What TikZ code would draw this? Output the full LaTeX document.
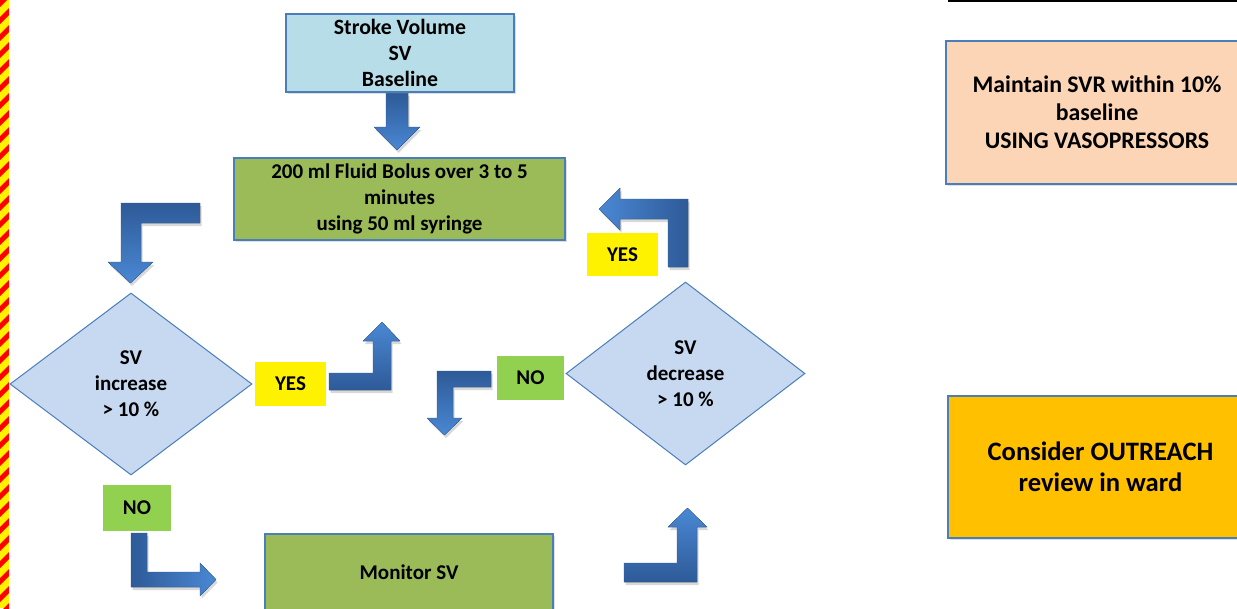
\documentclass[tikz,border=0pt]{standalone}
\usepackage{fontspec}
\setmainfont{Carlito}
\usepackage{xcolor}
\usepackage{tikz}
\usetikzlibrary{shapes.geometric, shadows}
\definecolor{svblue}{HTML}{B7DEE8}
\definecolor{boxedge}{HTML}{4A7EBB}
\definecolor{bolusgreen}{HTML}{9BBB59}
\definecolor{decisionblue}{HTML}{C6D9F1}
\definecolor{nogreen}{HTML}{92D050}
\definecolor{peach}{HTML}{FBD5B5}
\definecolor{amber}{HTML}{FFC000}
\definecolor{arrowdark}{HTML}{2E5A98}
\definecolor{arrowlight}{HTML}{4A88D4}

\tikzset{
  boxtext/.style={font=\bfseries\fontsize{21}{26}\selectfont, align=center},
  stepbox/.style={boxtext, draw=boxedge, line width=1.5pt, inner sep=0pt,
    drop shadow={shadow xshift=1.5pt, shadow yshift=-2pt, opacity=0.25}},
  decision/.style={boxtext, diamond, draw=boxedge, line width=1pt,
    fill=decisionblue, inner sep=0pt, aspect=1.33},
  answer/.style={boxtext, inner sep=0pt, minimum height=44pt},
  blockarrow/.style={draw=arrowdark, line width=0.3pt,
    drop shadow={shadow xshift=1.5pt, shadow yshift=-3pt, opacity=0.3}},
}

\begin{document}
\begin{tikzpicture}[x=1pt, y=-1pt]
  \clip (0,0) rectangle (1237,608);
  \fill[white] (0,0) rectangle (1237,608);

  % hazard stripe on the left edge
  \begin{scope}
    \clip (0,0) rectangle (9,608);
    \fill[yellow] (0,0) rectangle (9,608);
    \foreach \y in {-17,0,...,625}
      \fill[red] (0,\y) -- (9,\y-9) -- (9,\y-2) -- (0,\y+7) -- cycle;
  \end{scope}

  \draw[line width=2.5pt] (948,1) -- (1237,1);

  % block arrows
  \filldraw[blockarrow, top color=arrowdark, bottom color=arrowlight]
    (386,93) -- (408,93) -- (408,127) -- (420,127) -- (397,150)
    -- (374,127) -- (386,127) -- cycle;
  \filldraw[blockarrow, top color=arrowdark, bottom color=arrowlight]
    (200,203) -- (200,223) -- (141,223) -- (141,262) -- (153,262)
    -- (130.5,283) -- (108,262) -- (121,262) -- (121,203) -- cycle;
  \filldraw[blockarrow, top color=arrowlight, bottom color=arrowdark]
    (329,373) -- (373,373) -- (373,341) -- (363,341) -- (382,322)
    -- (400,341) -- (391,341) -- (391,390) -- (329,390) -- cycle;
  \filldraw[blockarrow, top color=arrowdark, bottom color=arrowlight]
    (491,371) -- (491,387) -- (453,387) -- (453,418) -- (462,418)
    -- (444.5,435) -- (427,418) -- (437,418) -- (437,371) -- cycle;
  \filldraw[blockarrow, left color=arrowlight, right color=arrowdark]
    (688,267) -- (668,267) -- (668,219) -- (620,219) -- (620,230)
    -- (599,209) -- (620,188) -- (620,199) -- (688,199) -- cycle;
  \filldraw[blockarrow, left color=arrowdark, right color=arrowlight]
    (131,533) -- (147,533) -- (147,572) -- (200,572) -- (200,563)
    -- (216,579.5) -- (200,596) -- (200,587) -- (131,587) -- cycle;
  \filldraw[blockarrow, top color=arrowlight, bottom color=arrowdark]
    (624,563) -- (677,563) -- (677,527) -- (668,527) -- (687.5,508)
    -- (707,527) -- (697,527) -- (697,582) -- (624,582) -- cycle;

  % boxes
  \node[stepbox, fill=svblue, minimum width=228pt, minimum height=78pt,
        font=\bfseries\fontsize{21.8}{26}\selectfont]
    (sv) at (400,53) {Stroke Volume\\SV\\Baseline};
  \node[stepbox, fill=bolusgreen, minimum width=331pt, minimum height=82pt]
    (bolus) at (399.5,199) {200 ml Fluid Bolus over 3 to 5\\minutes\\using 50 ml syringe};
  \node[stepbox, fill=bolusgreen, minimum width=288pt, minimum height=76pt]
    (monitor) at (409,572) {Monitor SV};

  % decisions
  \node[decision, minimum width=242pt, minimum height=182pt]
    (incr) at (131,384) {SV\\increase\\> 10 \%};
  \node[decision, minimum width=239pt, minimum height=183pt]
    (decr) at (685.5,373.5) {SV\\decrease\\> 10 \%};

  % answers
  \node[answer, fill=yellow, minimum width=71pt] (yesL) at (290.5,384) {YES};
  \node[answer, fill=nogreen, minimum width=67pt] (noR) at (530.5,378) {NO};
  \node[answer, fill=yellow, minimum width=71pt, minimum height=43pt]
    (yesT) at (622.5,254.5) {YES};
  \node[answer, fill=nogreen, minimum width=68pt, minimum height=46pt]
    (noB) at (137,508) {NO};

  % side boxes
  \node[stepbox, fill=peach, minimum width=302pt, minimum height=143pt,
        font=\bfseries\fontsize{23.8}{28}\selectfont]
    (svr) at (1097,112.5) {Maintain SVR within 10\%\\baseline\\USING VASOPRESSORS};
  \node[stepbox, fill=amber, minimum width=305pt, minimum height=142pt,
        font=\bfseries\fontsize{26.6}{31}\selectfont]
    (outreach) at (1100.5,467) {Consider OUTREACH\\review in ward};
\end{tikzpicture}
\end{document}
